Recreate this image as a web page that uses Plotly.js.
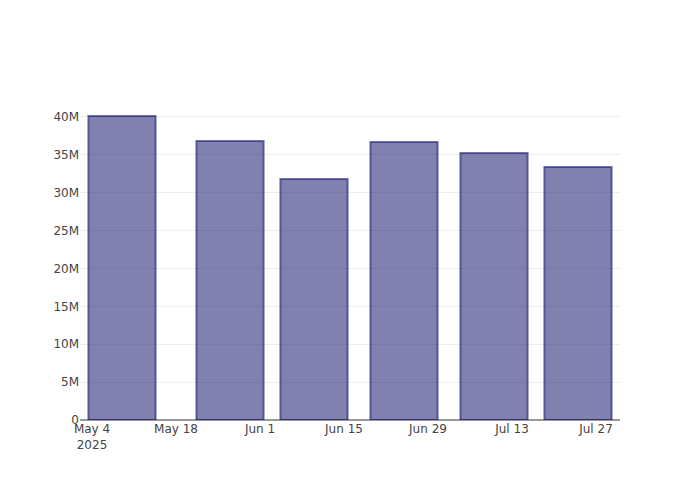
<!DOCTYPE html>
<html>
<head>
<meta charset="utf-8">
<script src="https://cdn.plot.ly/plotly-3.0.1.min.js"></script>
<style>html,body{margin:0;padding:0;background:#fff}#chart{width:700px;height:500px}</style>
</head>
<body>
<div id="chart"></div>
<script>
var dates = ["2025-05-09", "2025-05-27", "2025-06-10", "2025-06-25", "2025-07-10", "2025-07-24"];
var values = [40130000, 36830000, 31820000, 36700000, 35250000, 33400000];

var trace = {
  type: "bar",
  x: dates,
  y: values,
  marker: {
    color: "rgba(25,25,112,0.55)",
    line: {color: "rgba(25,25,112,0.6)", width: 2}
  }
};

var layout = {
  width: 700,
  height: 500,
  paper_bgcolor: "#fff",
  plot_bgcolor: "#fff",
  font: {family: "DejaVu Sans, sans-serif", size: 12, color: "#444"},
  margin: {l: 80, r: 80, t: 100, b: 80},
  showlegend: false,
  xaxis: {
    type: "date",
    showgrid: false,
    showline: false,
    zeroline: false
  },
  yaxis: {
    gridcolor: "#eee",
    zeroline: true,
    zerolinecolor: "#999",
    zerolinewidth: 2,
    showline: false
  }
};

Plotly.newPlot("chart", [trace], layout, {displayModeBar: false});
</script>
</body>
</html>
